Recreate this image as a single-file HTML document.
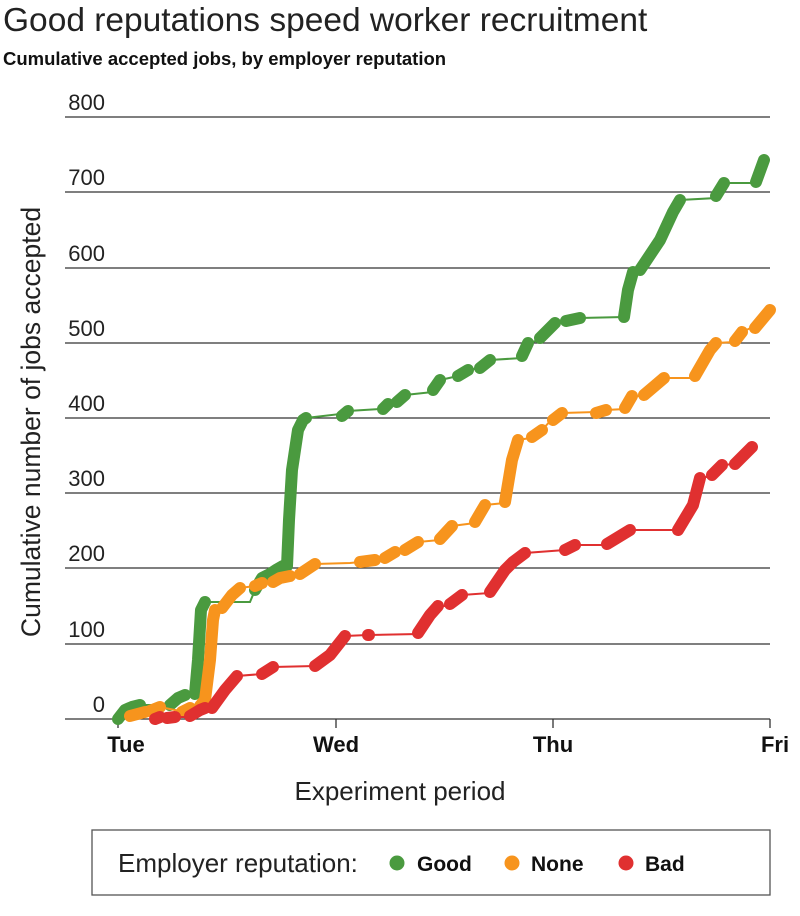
<!DOCTYPE html>
<html><head><meta charset="utf-8"><style>
body{margin:0;background:#fff;width:800px;height:911px;overflow:hidden;font-family:"Liberation Sans",sans-serif}
</style></head><body>
<svg width="800" height="911" xmlns="http://www.w3.org/2000/svg" font-family="Liberation Sans, sans-serif">
<text x="3" y="31" font-size="33.5" fill="#222" font-weight="300">Good reputations speed worker recruitment</text>
<text x="3" y="65" font-size="18.5" font-weight="bold" fill="#111">Cumulative accepted jobs, by employer reputation</text>
<g stroke="#333" stroke-width="1.3">
<line x1="65" x2="770" y1="117" y2="117"/><line x1="65" x2="770" y1="192" y2="192"/>
<line x1="65" x2="770" y1="268" y2="268"/><line x1="65" x2="770" y1="343" y2="343"/>
<line x1="65" x2="770" y1="418" y2="418"/><line x1="65" x2="770" y1="493" y2="493"/>
<line x1="65" x2="770" y1="568" y2="568"/><line x1="65" x2="770" y1="644" y2="644"/>
<line x1="65" x2="770" y1="719" y2="719"/>
<line x1="118" x2="118" y1="719" y2="728"/><line x1="336" x2="336" y1="719" y2="728"/>
<line x1="553" x2="553" y1="719" y2="728"/><line x1="770" x2="770" y1="719" y2="728"/>
</g>
<g font-size="22" fill="#222" text-anchor="end">
<text x="105" y="110">800</text><text x="105" y="185">700</text><text x="105" y="261">600</text>
<text x="105" y="336">500</text><text x="105" y="411">400</text><text x="105" y="486">300</text>
<text x="105" y="561">200</text><text x="105" y="637">100</text><text x="105" y="712">0</text>
</g>
<g font-size="22" font-weight="bold" fill="#111" text-anchor="middle">
<text x="126" y="752">Tue</text><text x="336" y="752">Wed</text><text x="553" y="752">Thu</text><text x="775" y="752">Fri</text>
</g>
<text x="400" y="800" font-size="26" fill="#222" text-anchor="middle">Experiment period</text>
<text transform="translate(40,422) rotate(-90)" font-size="26.5" fill="#222" text-anchor="middle">Cumulative number of jobs accepted</text>
<g id="series"></g>
<rect x="92" y="830" width="678" height="65" fill="none" stroke="#555" stroke-width="1.3"/>
<text x="118" y="872" font-size="26" fill="#222">Employer reputation:</text>
<circle cx="397" cy="863" r="7.5" fill="#4a9a3f"/><text x="417" y="871" font-size="21" font-weight="bold" fill="#111">Good</text>
<circle cx="512" cy="863" r="7.5" fill="#f7941d"/><text x="531" y="871" font-size="21" font-weight="bold" fill="#111">None</text>
<circle cx="626" cy="863" r="7.5" fill="#e03030"/><text x="645" y="871" font-size="21" font-weight="bold" fill="#111">Bad</text>
</svg>
<script>
var S=[
["#4a9a3f",[[1,[118,719,125,710,132,707,140,705]],[0,[170,705]],[1,[170,705,178,698,185,695]],[0,[195,696]],[1,[195,694,198,660,201,610,205,602]],[0,[250,602]],[1,[255,590,262,578,270,574,276,570,283,566]],[1,[287,566,289,520,292,470,298,430,303,420,306,418]],[0,[340,414]],[1,[342,416,348,411]],[0,[380,409]],[1,[383,409,388,404]],[0,[397,402]],[1,[397,402,405,395]],[0,[433,392]],[1,[433,390,440,380]],[0,[458,376]],[1,[458,376,468,370]],[0,[480,368]],[1,[480,368,490,360]],[0,[522,358]],[1,[522,356,528,343]],[0,[540,340]],[1,[540,338,555,323]],[0,[566,321]],[1,[566,321,580,318]],[0,[624,317]],[1,[624,317,628,290,633,272]],[0,[640,270]],[1,[640,270,660,240,673,212,680,200]],[0,[716,198]],[1,[716,196,724,183]],[0,[756,183]],[1,[756,182,764,160]]]],
["#f7941d",[[1,[130,716,145,712]],[0,[150,712]],[1,[150,711,160,707]],[0,[180,711]],[1,[182,712,190,708]],[0,[198,707]],[1,[200,706,205,700,210,660,213,620,215,610]],[0,[220,609]],[1,[222,608,232,595,240,588]],[0,[255,586]],[1,[255,586,262,583]],[0,[273,583]],[1,[273,582,280,578,290,576]],[0,[300,575]],[1,[300,574,315,564]],[0,[350,563]],[1,[360,562,375,560]],[0,[385,558]],[1,[385,558,395,552]],[0,[405,551]],[1,[405,550,418,542]],[0,[440,540]],[1,[440,539,452,526]],[0,[475,523]],[1,[475,522,485,505]],[0,[505,503]],[1,[505,502,512,460,518,440]],[0,[530,438]],[1,[532,437,542,430]],[0,[553,418]],[1,[553,420,562,413]],[0,[596,412]],[1,[596,413,606,410]],[0,[625,409]],[1,[625,408,632,396]],[0,[642,396]],[1,[644,395,664,378]],[0,[695,378]],[1,[695,376,710,350,716,343]],[0,[735,342]],[1,[735,341,742,332]],[0,[755,326]],[1,[755,328,770,310]]]],
["#e03030",[[1,[155,719,160,717]],[0,[167,718]],[1,[167,718,175,717]],[0,[190,717]],[1,[190,716,200,710,205,708]],[0,[212,708]],[1,[212,708,225,690,237,676]],[0,[262,674]],[1,[262,674,273,667]],[0,[315,666]],[1,[315,666,330,655,345,636]],[0,[368,635]],[1,[368,635,369,635]],[0,[418,634]],[1,[418,633,430,615,438,606]],[0,[450,606]],[1,[450,604,462,595]],[0,[490,593]],[1,[490,592,505,570,513,562,525,553]],[0,[565,550]],[1,[565,550,575,545]],[0,[607,545]],[1,[607,544,630,530]],[0,[678,530]],[1,[678,530,693,505,700,478]],[0,[712,476]],[1,[712,475,722,465]],[0,[735,464]],[1,[735,464,752,447]]]]
];
var g=document.getElementById("series"),h="";
S.forEach(function(s){var all=[];s[1].forEach(function(q){all=all.concat(q[1]);});
h+='<polyline points="'+all.join(",")+'" fill="none" stroke="'+s[0]+'" stroke-width="2"/>';
s[1].forEach(function(q){if(q[0])h+='<polyline points="'+q[1].join(",")+'" fill="none" stroke="'+s[0]+'" stroke-width="12" stroke-linecap="round" stroke-linejoin="round"/>';});});
g.innerHTML=h;
</script>
</body></html>
